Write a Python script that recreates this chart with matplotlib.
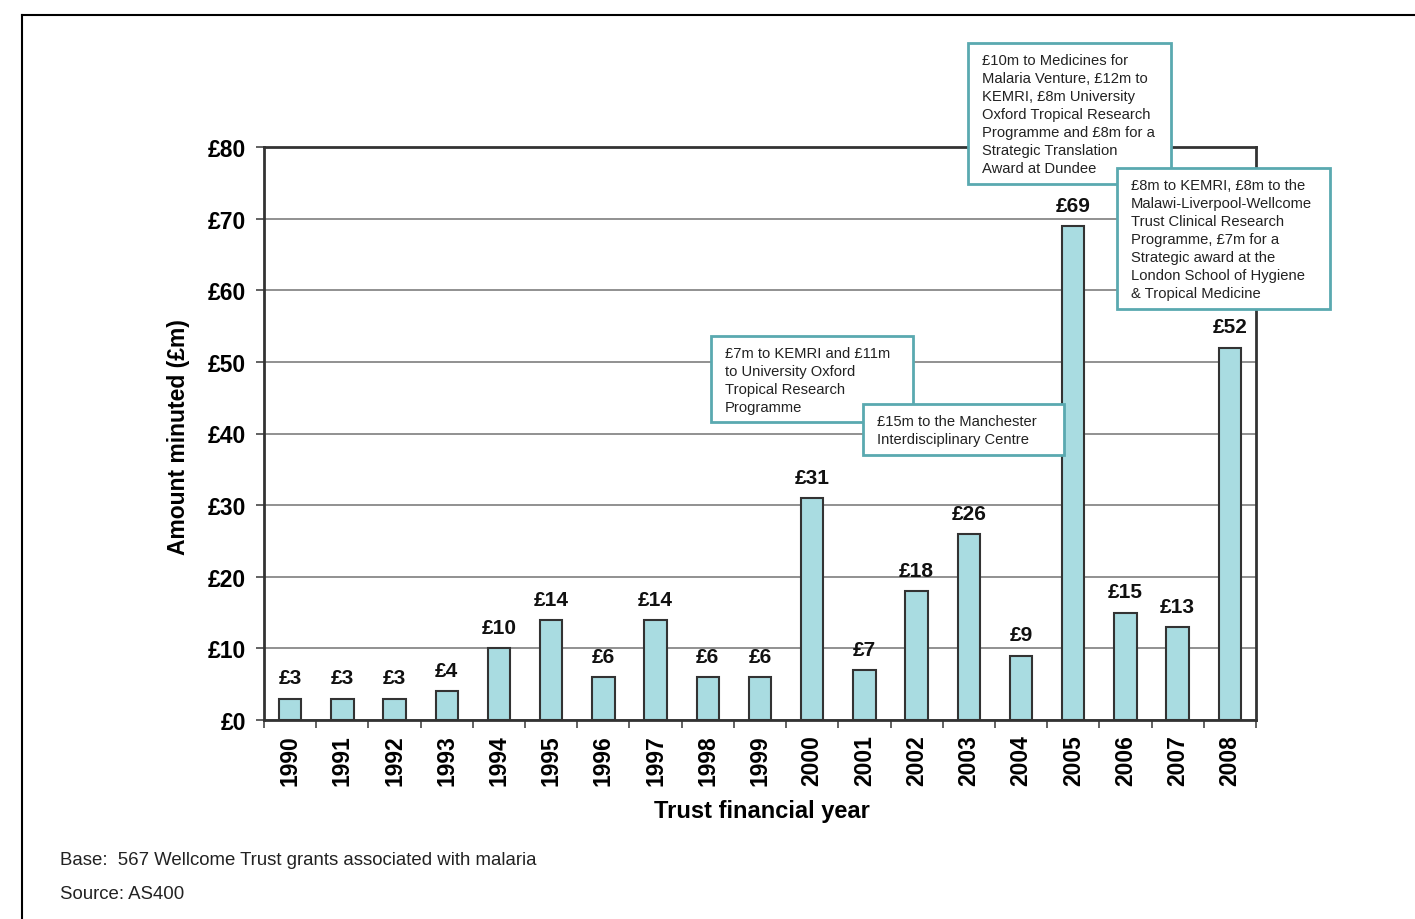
import numpy as np
import matplotlib.pyplot as plt
from matplotlib.patches import Rectangle
from matplotlib.lines import Line2D

plt.rcParams['font.family'] = ['Liberation Sans', 'DejaVu Sans']

years = ['1990', '1991', '1992', '1993', '1994', '1995', '1996', '1997', '1998', '1999',
         '2000', '2001', '2002', '2003', '2004', '2005', '2006', '2007', '2008']
amounts = [3, 3, 3, 4, 10, 14, 6, 14, 6, 6, 31, 7, 18, 26, 9, 69, 15, 13, 52]
yticks = [0, 10, 20, 30, 40, 50, 60, 70, 80]

notes = [
    '£10m to Medicines for\nMalaria Venture, £12m to\nKEMRI, £8m University\nOxford Tropical Research\n'
    'Programme and £8m for a\nStrategic Translation\nAward at Dundee',
    '£8m to KEMRI, £8m to the\nMalawi-Liverpool-Wellcome\nTrust Clinical Research\nProgramme, £7m for a\n'
    'Strategic award at the\nLondon School of Hygiene\n& Tropical Medicine',
    '£7m to KEMRI and £11m\nto University Oxford\nTropical Research\nProgramme',
    '£15m to the Manchester\nInterdisciplinary Centre',
]
# box corners in pixels (left, top, right, bottom)
note_boxes = [(968, 44, 1171, 185), (1117, 169, 1330, 310), (711, 337, 913, 423), (863, 405, 1064, 456)]

W, H = 1415, 920
fig = plt.figure(figsize=(W / 100, H / 100), dpi=100)
ax = fig.add_axes([264 / W, 1 - 721 / H, (1256 - 264) / W, (721 - 148) / H])

x = np.arange(len(years))
ax.bar(x, amounts, width=0.43, color='#a9dce1', edgecolor='#333333', linewidth=1.5, zorder=3)
for xi, v in zip(x, amounts):
    ax.annotate('£%d' % v, (xi, v), xytext=(0, 8), textcoords='offset points',
                ha='center', va='bottom', fontsize=15, fontweight='bold', color='#111111')

ax.set_xlim(-0.5, len(years) - 0.5)
ax.set_ylim(0, 80)
ax.set_yticks(yticks)
ax.set_yticklabels(['£%d' % t for t in yticks], fontsize=16.5, fontweight='bold')
ax.yaxis.grid(True, color='#888888', linewidth=1.3, zorder=0)
ax.set_xticks(x)
ax.set_xticklabels(years, rotation=90, fontsize=16.5, fontweight='bold')
ax.set_xticks(np.arange(-0.5, len(years)), minor=True)
ax.tick_params(axis='x', which='major', length=0, pad=10)
ax.tick_params(axis='x', which='minor', length=6, width=1.3, color='#555555')
ax.tick_params(axis='y', length=6, width=1.3, color='#555555', pad=7)
for s in ax.spines.values():
    s.set_color('#333333')
    s.set_linewidth(2)

fig.text(178 / W, 1 - 437 / H, 'Amount minuted (£m)', rotation=90, ha='center', va='center',
         fontsize=16.5, fontweight='bold')
fig.text(762 / W, 1 - 812 / H, 'Trust financial year', ha='center', va='center',
         fontsize=17, fontweight='bold')
fig.text(60 / W, 1 - 861 / H, 'Base:  567 Wellcome Trust grants associated with malaria',
         ha='left', va='center', fontsize=13.4, color='#222222')
fig.text(60 / W, 1 - 895 / H, 'Source: AS400', ha='left', va='center', fontsize=13.4, color='#222222')

# outer frame
fig.add_artist(Line2D([22 / W, 22 / W], [0, 1 - 16 / H], color='black', linewidth=1.5))
fig.add_artist(Line2D([22 / W, 1], [1 - 16 / H, 1 - 16 / H], color='black', linewidth=1.5))

for (l, t, r, b), txt in zip(note_boxes, notes):
    fig.add_artist(Rectangle((l / W, 1 - b / H), (r - l) / W, (b - t) / H, transform=fig.transFigure,
                             facecolor='white', edgecolor='#5aa9b0', linewidth=2, zorder=5))
    fig.text((l + 14) / W, 1 - (t + 10) / H, txt, ha='left', va='top', fontsize=10.6,
             linespacing=1.36, color='#222222', zorder=6)

fig.savefig('out.png', dpi=100)
